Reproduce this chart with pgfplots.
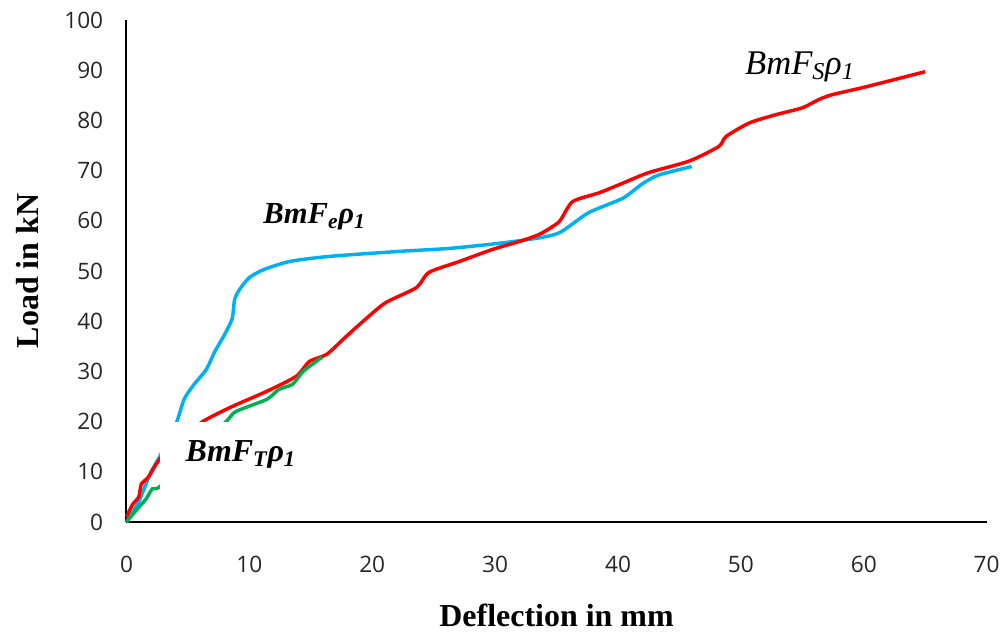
\documentclass[border=0pt]{standalone}
\usepackage{fontspec}
\setmainfont{Liberation Serif}
\newfontfamily\tickfont{Open Sans}
\usepackage{pgfplots}
\pgfplotsset{compat=1.18}
\definecolor{cblue}{HTML}{00B0F0}
\definecolor{cred}{HTML}{FF0000}
\definecolor{cgreen}{HTML}{00B050}
\begin{document}
\begin{tikzpicture}
\begin{axis}[
  scale only axis, width=646pt, height=377pt,
  xmin=0, xmax=70, ymin=0, ymax=100,
  xtick={0,10,...,70}, ytick={0,10,...,100},
  axis lines=left, axis line style={-, line width=1.5pt, black},
  major tick length=0pt,
  /pgf/number format/assume math mode=true,
  ticklabel style={font=\tickfont\fontsize{17}{19}\selectfont, color=black!85},
  xticklabel style={yshift=-22pt},
  yticklabel style={xshift=-14pt},
  xlabel={\textbf{Deflection in mm}},
  ylabel={\textbf{Load in kN}},
  label style={font=\fontsize{24}{26}\selectfont},
  xlabel style={at={(axis description cs:0.5,0)}, anchor=north, yshift=-58pt},
  ylabel style={at={(axis description cs:0,0.5)}, anchor=south, yshift=62pt},
  every axis plot/.append style={line width=2.6pt, smooth, tension=0.4, no marks},
  clip=false,
]
% BmFe rho1 (blue)
\addplot[cblue] coordinates {
  (0,0) (0.5,2) (1,4) (1.5,7) (2,10) (2.7,13) (3.4,16.5) (4.1,20) (4.7,24.5)
  (5.5,27.4) (6.5,30.4) (7.2,34) (8,37.4) (8.6,40.5) (8.8,44.3) (9.2,46.3)
  (10,48.7) (11.2,50.3) (13.3,51.9) (16.5,52.9) (22.2,53.9) (26.3,54.5)
  (30.3,55.5) (33.6,56.6) (35.3,57.7) (37.6,61.6) (40.4,64.5) (42,67.4)
  (43.3,69.1) (46,70.8)
};
% BmFS rho1 (red)
\addplot[cred] coordinates {
  (0,1) (0.5,3.5) (1,5) (1.2,7.5) (1.8,9) (2.7,12.5) (4.4,16.5) (6.2,20)
  (8.6,23) (11.4,26) (13.8,29) (14.9,32) (16.3,33.4) (17.9,37) (19.5,40.5)
  (21.1,43.7) (23.6,46.7) (24.6,49.7) (27.1,51.9) (29.8,54.3) (32,55.9)
  (33.6,57.3) (35.2,59.8) (36.3,63.8) (38.5,65.6) (40.5,67.6) (42.5,69.6)
  (45.8,71.9) (48.2,74.8) (48.8,76.8) (50.7,79.5) (52.8,81.1) (55,82.5)
  (56.3,84.1) (57.4,85.1) (60.2,86.7) (65,89.7)
};
% BmFT rho1 (green)
\addplot[cgreen] coordinates {
  (0,0) (0.2,0.6) (1.1,3.2) (1.6,4.6) (2.1,6.6) (2.7,7) (5,13) (8.1,20)
  (8.9,22) (11.4,24.4) (12.4,26.4) (13.5,27.4) (14.3,29.8) (14.9,31)
  (15.9,32.8)
};
\fill[white] (axis cs:2.75,0.5) rectangle (axis cs:14.5,19.9);
\node[font=\fontsize{23}{25}\selectfont\bfseries\itshape] at (axis cs:15.3,60.8)
  {BmF\textsubscript{e}ρ\textsubscript{1}};
\node[font=\fontsize{26}{28}\selectfont\itshape] at (axis cs:54.8,90.6)
  {BmF\textsubscript{S}ρ\textsubscript{1}};
\node[font=\fontsize{24}{26}\selectfont\bfseries\itshape] at (axis cs:9.3,13.4)
  {BmF\textsubscript{T}ρ\textsubscript{1}};
% room around the axis as in the reference
\path (axis description cs:0,1) ++(-95pt,15pt) coordinate (tl);
\path (tl) -- ++(1pt,0);
\end{axis}
\end{tikzpicture}
\end{document}
